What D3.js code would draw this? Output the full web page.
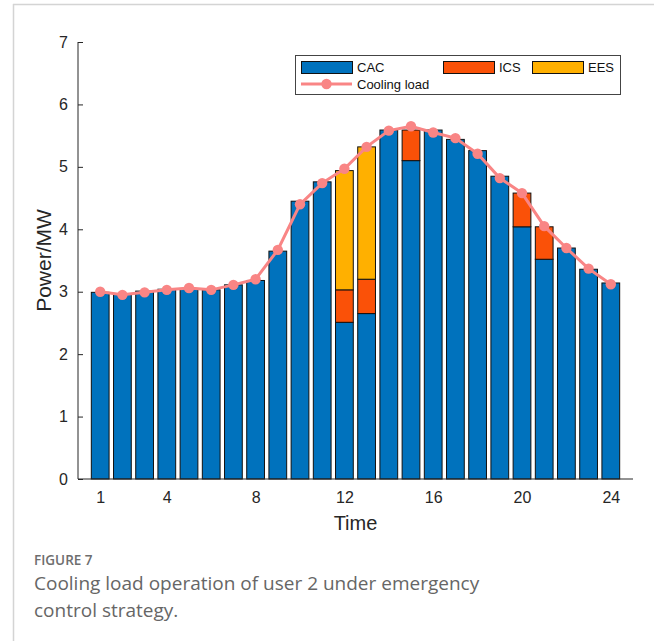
<!DOCTYPE html>
<html>
<head>
<meta charset="utf-8">
<script src="https://cdn.jsdelivr.net/npm/d3@7"></script>
<style>
  html, body { margin: 0; padding: 0; background: #fff; }
  svg { display: block; }
</style>
</head>
<body>
<svg id="chart" width="654" height="641"></svg>
<script>
// ---- data ----
const hours = d3.range(1, 25);
const cac = [2.99, 2.96, 3.01, 3.04, 3.05, 3.03, 3.11, 3.18, 3.65, 4.45, 4.76, 2.51,
             2.65, 5.59, 5.10, 5.59, 5.44, 5.26, 4.85, 4.04, 3.52, 3.70, 3.36, 3.14];
const ics = [0, 0, 0, 0, 0, 0, 0, 0, 0, 0, 0, 0.52,
             0.55, 0, 0.49, 0, 0, 0, 0, 0.54, 0.52, 0, 0, 0];
const ees = [0, 0, 0, 0, 0, 0, 0, 0, 0, 0, 0, 1.91,
             2.12, 0, 0, 0, 0, 0, 0, 0, 0, 0, 0, 0];
const coolingLoad = [3.00, 2.95, 2.99, 3.03, 3.06, 3.03, 3.11, 3.20, 3.67, 4.40, 4.74, 4.97,
                     5.32, 5.58, 5.65, 5.55, 5.46, 5.21, 4.82, 4.58, 4.05, 3.70, 3.37, 3.12];
const seriesNames = ["CAC", "ICS", "EES"];
const seriesColors = ["#0072BD", "#FA5108", "#FFB000"];
const xTicks = [1, 4, 8, 12, 16, 20, 24];
const yTicks = [0, 1, 2, 3, 4, 5, 6, 7];
const lineColor = "#F98585";

const svg = d3.select("#chart");
const font = "'Liberation Sans', Arial, sans-serif";

// page frame
svg.append("line").attr("x1", 13).attr("x2", 654).attr("y1", 4.5).attr("y2", 4.5)
  .attr("stroke", "#d4d4d4").attr("stroke-width", 1.5);
svg.append("line").attr("x1", 13.5).attr("x2", 13.5).attr("y1", 4).attr("y2", 641)
  .attr("stroke", "#d4d4d4").attr("stroke-width", 1.5);

const L = 78, R = 633, T = 42, B = 479;
const x = d3.scaleLinear().domain([0, 25]).range([L, R]);
const y = d3.scaleLinear().domain([0, 7]).range([B, T]);
const bw = (x(1) - x(0)) * 0.8;

const axisColor = "#262626";

// ticks (inward, beneath data)
const g = svg.append("g");
const yAxis = d3.axisLeft(y).tickValues(yTicks).tickFormat(d3.format("d"))
  .tickSize(-5).tickPadding(10).tickSizeOuter(0);
const gy = g.append("g").attr("transform", `translate(${L},0)`).call(yAxis);
const xAxis = d3.axisBottom(x).tickValues(xTicks).tickFormat(d3.format("d"))
  .tickSize(-5).tickPadding(10).tickSizeOuter(0);
const gx = g.append("g").attr("transform", `translate(0,${B})`).call(xAxis);
[gx, gy].forEach(a => {
  a.attr("font-family", font).attr("font-size", 16);
  a.select(".domain").remove();
  a.selectAll("line").attr("stroke", axisColor);
  a.selectAll("text").attr("fill", "#262626").style("font-family", font).style("font-size", "16px");
});
gx.selectAll("text").attr("dy", "0.85em");

// stacked bars
const rows = hours.map((h, i) => ({ h, CAC: cac[i], ICS: ics[i], EES: ees[i] }));
const stack = d3.stack().keys(seriesNames)(rows);
stack.forEach((s, si) => {
  svg.append("g").selectAll("rect")
    .data(s.filter(d => d[1] - d[0] > 0))
    .join("rect")
    .attr("x", d => x(d.data.h) - bw / 2)
    .attr("width", bw)
    .attr("y", d => y(d[1]))
    .attr("height", d => y(d[0]) - y(d[1]))
    .attr("fill", seriesColors[si])
    .attr("stroke", "#111")
    .attr("stroke-width", 1);
});

// axis lines
svg.append("line").attr("x1", L).attr("x2", L).attr("y1", T).attr("y2", B)
  .attr("stroke", axisColor).attr("stroke-width", 1);
svg.append("line").attr("x1", L).attr("x2", R).attr("y1", B).attr("y2", B)
  .attr("stroke", axisColor).attr("stroke-width", 1);

// cooling load line
const line = d3.line().x((d, i) => x(hours[i])).y(d => y(d));
svg.append("path").datum(coolingLoad).attr("d", line)
  .attr("fill", "none").attr("stroke", lineColor).attr("stroke-width", 3);
svg.append("g").selectAll("circle").data(coolingLoad).join("circle")
  .attr("cx", (d, i) => x(hours[i])).attr("cy", d => y(d)).attr("r", 5.2)
  .attr("fill", lineColor);

// axis titles
svg.append("text").attr("x", (L + R) / 2).attr("y", 530).attr("text-anchor", "middle")
  .style("font-family", font).style("font-size", "20px").attr("fill", "#262626").text("Time");
svg.append("text").attr("transform", `translate(51,${(T + B) / 2}) rotate(-90)`)
  .attr("text-anchor", "middle").style("font-family", font).style("font-size", "21px")
  .attr("fill", "#262626").text("Power/MW");

// legend
const lg = svg.append("g");
lg.append("rect").attr("x", 295.5).attr("y", 55.5).attr("width", 325).attr("height", 39)
  .attr("fill", "#fff").attr("stroke", "#444").attr("stroke-width", 1);
const legX = [301, 443, 532];
seriesNames.forEach((n, i) => {
  lg.append("rect").attr("x", legX[i] + 0.5).attr("y", 61.5).attr("width", 51).attr("height", 12)
    .attr("fill", seriesColors[i]).attr("stroke", "#111").attr("stroke-width", 1);
  lg.append("text").attr("x", legX[i] + 56).attr("y", 72).style("font-family", font)
    .style("font-size", "13px").attr("fill", "#111").text(n);
});
lg.append("line").attr("x1", 301).attr("x2", 352).attr("y1", 84).attr("y2", 84)
  .attr("stroke", lineColor).attr("stroke-width", 3);
lg.append("circle").attr("cx", 326.5).attr("cy", 84).attr("r", 5.2).attr("fill", lineColor);
lg.append("text").attr("x", 357).attr("y", 89).style("font-family", font)
  .style("font-size", "13px").attr("fill", "#111").text("Cooling load");

// caption
const capFont = "'Open Sans', 'Noto Sans', sans-serif";
svg.append("text").attr("x", 34).attr("y", 565).style("font-family", capFont)
  .style("font-size", "13.5px").attr("font-weight", 600).attr("fill", "#6e6e6e").text("FIGURE 7");
svg.append("text").attr("x", 34).attr("y", 590).style("font-family", capFont)
  .style("font-size", "19px").attr("fill", "#666").text("Cooling load operation of user 2 under emergency");
svg.append("text").attr("x", 34).attr("y", 617).style("font-family", capFont)
  .style("font-size", "19px").attr("fill", "#666").text("control strategy.");
</script>
</body>
</html>
